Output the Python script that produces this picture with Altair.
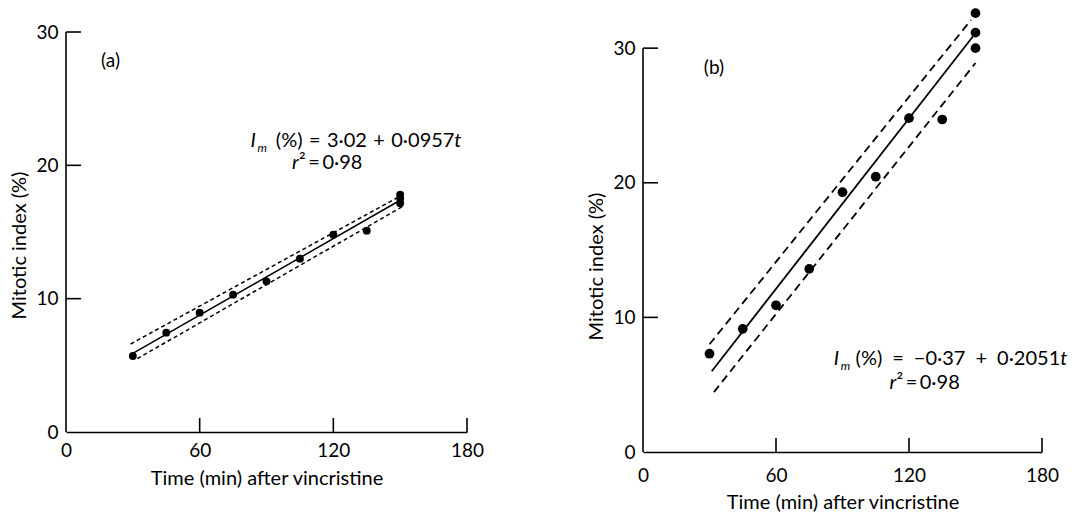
import altair as alt
import pandas as pd

FONT = "Lato"

# ---------------- panel (a) ----------------
a_time = [30, 45, 60, 75, 90, 105, 120, 135, 150, 150, 150]
a_index = [5.7, 7.45, 8.95, 10.3, 11.3, 13.0, 14.8, 15.1, 17.8, 17.5, 17.15]
a_fit_time = [30, 150]
a_fit_index = [5.89, 17.38]
a_upper_time = [29, 149]
a_upper_index = [6.6, 17.6]
a_lower_time = [32, 151]
a_lower_index = [5.5, 16.9]

# ---------------- panel (b) ----------------
b_time = [30, 45, 60, 75, 90, 105, 120, 135, 150, 150, 150]
b_index = [7.3, 9.15, 10.9, 13.6, 19.3, 20.45, 24.8, 24.7, 32.6, 31.15, 30.0]
b_fit_time = [31, 149]
b_fit_index = [6.0, 30.9]
b_upper_time = [30, 148]
b_upper_index = [8.0, 32.1]
b_lower_time = [32, 150]
b_lower_index = [4.45, 28.9]

x_label_values = [0, 60, 120, 180]
x_tick_values = [60, 120, 180]
y_label_values = [0, 10, 20, 30]
y_tick_values = [10, 20, 30]
y_axis_span = [0, 30]

x_title = "Time (min) after vincristine"
y_title = "Mitotic index (%)"
TS = "\u2009"  # thin space
HS = "\u200a"  # hair space
GAP_A = " " + HS
GAP_B = "\u2002"


def panel(times, vals, fit_t, fit_v, up_t, up_v, lo_t, lo_v,
          tag, tag_pos, eq_rest, eq_start, eq_end, eq_v, r2_start, r2_v,
          w, h, ytop, dot, dash, sw, ytitle_y, xlab_pad, xtitle_pad):
    xs = alt.Scale(domain=[0, 180], nice=False, zero=False)
    ys = alt.Scale(domain=[0, ytop], nice=False, zero=False)
    xaxis = alt.Axis(values=x_label_values, ticks=False, grid=False,
                     domainColor="black", domainWidth=1.6,
                     labelFont=FONT, labelFontSize=19, labelColor="black",
                     labelPadding=xlab_pad, labelFlush=False,
                     title=x_title, titleFont=FONT, titleFontSize=20,
                     titleFontWeight="normal", titleColor="black",
                     titlePadding=xtitle_pad)
    yaxis = alt.Axis(values=y_label_values, ticks=False, grid=False, domain=False,
                     labelFont=FONT, labelFontSize=19, labelColor="black",
                     labelPadding=8, labelFlush=False,
                     title=y_title, titleFont=FONT, titleFontSize=20,
                     titleFontWeight="normal", titleColor="black", titlePadding=6,
                     titleY=ytitle_y)

    def X(f="t"):
        return alt.X(f"{f}:Q", scale=xs, axis=xaxis)

    def Y(f="v"):
        return alt.Y(f"{f}:Q", scale=ys, axis=yaxis)

    pts = pd.DataFrame({"t": times, "v": vals})
    base = alt.Chart(pts).mark_circle(size=dot, color="black", opacity=1).encode(
        x=X(), y=Y())

    def line(tt, vv, dashed):
        d = pd.DataFrame({"t": tt, "v": vv})
        kw = dict(color="black", strokeWidth=sw)
        if dashed:
            kw["strokeDash"] = dash
        return alt.Chart(d).mark_line(**kw).encode(x=X(), y=Y())

    fit = line(fit_t, fit_v, False)
    upper = line(up_t, up_v, True)
    lower = line(lo_t, lo_v, True)

    yline = alt.Chart(pd.DataFrame({"v": [y_axis_span[0]], "v2": [y_axis_span[1]]})).mark_rule(
        color="black", strokeWidth=1.6).encode(
        x=alt.value(0), y=Y(), y2="v2:Q")
    yt = alt.Chart(pd.DataFrame({"v": y_tick_values})).mark_rule(
        color="black", strokeWidth=1.6).encode(
        y=Y(), x=alt.value(0), x2=alt.value(15))
    xt = alt.Chart(pd.DataFrame({"t": x_tick_values})).mark_rule(
        color="black", strokeWidth=1.6).encode(
        x=X(), y=alt.value(h), y2=alt.value(h - 14))

    def txt(s, t, v, size=19, italic=False, align="left", dx=0, dy=0):
        d = pd.DataFrame({"t": [t], "v": [v], "s": [s]})
        kw = dict(font=FONT, fontSize=size, color="black", align=align,
                  baseline="alphabetic", dx=dx, dy=dy)
        if italic:
            kw["fontStyle"] = "italic"
        return alt.Chart(d).mark_text(**kw).encode(x=X(), y=Y(), text="s:N")

    tag_layer = txt(tag, tag_pos[0], tag_pos[1], size=19, align="center")
    eq_i = txt("I", eq_start, eq_v, size=20, italic=True)
    eq_m = txt("m", eq_start, eq_v, size=12, italic=True, dx=7, dy=5)
    eq_r = txt(eq_rest, eq_end, eq_v, size=20, align="right", dx=-7)
    eq_t = txt("t", eq_end, eq_v, size=20, italic=True, align="right")
    r_r = txt("r", r2_start, r2_v, size=20, italic=True)
    r_rest = txt("²" + TS + "=" + TS + "0·98", r2_start, r2_v, size=20, dx=7)

    layers = [fit, upper, lower, yline, yt, xt, base, tag_layer,
              eq_i, eq_m, eq_r, eq_t, r_r, r_rest]
    return alt.layer(*layers).properties(width=w, height=h)


pa = panel(a_time, a_index, a_fit_time, a_fit_index, a_upper_time, a_upper_index,
           a_lower_time, a_lower_index,
           "(a)", (20, 27.4),
           "(%)" + GAP_A + "=" + GAP_A + "3·02" + GAP_A + "+" + GAP_A + "0·0957",
           82.8, 177.5, 21.4, 101.5, 19.75,
           401, 400, 30, 62, [4, 3], 1.5, 213, 9, 8)

# panel (b) sits lower in the figure: its plot area reaches a little higher than 30
pb = panel(b_time, b_index, b_fit_time, b_fit_index, b_upper_time, b_upper_index,
           b_lower_time, b_lower_index,
           "(b)", (32, 28.1),
           "(%)" + GAP_B + "=" + GAP_B + "−0·37" + GAP_B + "+" + GAP_B + "0·2051",
           86, 191.4, 6.5, 111.2, 4.7,
           399, 420, 31.2, 95, [8, 5], 1.8, 234, 14, 7)

chart = alt.hconcat(pa, pb, spacing=102).properties(
    padding={"left": 9, "top": 8, "right": 0, "bottom": 0}
).configure_view(stroke=None)

chart.save("out.html", embed_options={"renderer": "svg", "actions": False})
